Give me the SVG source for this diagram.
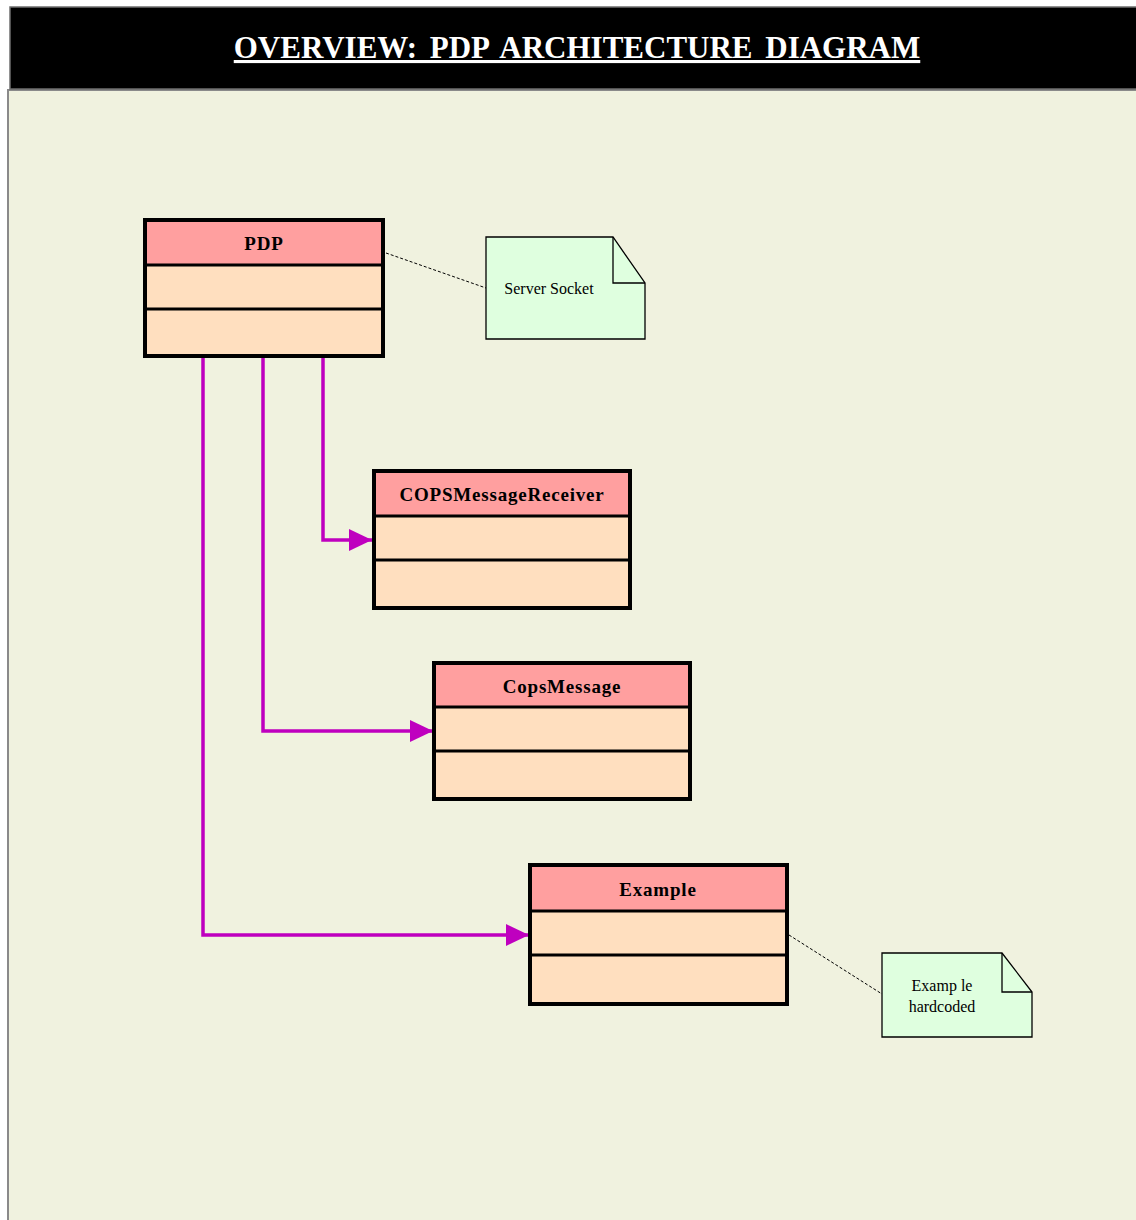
<svg xmlns="http://www.w3.org/2000/svg" width="1136" height="1220" viewBox="0 0 1136 1220">
  <defs>
    <style>
      .title { font-family: "Liberation Serif", "Times New Roman", serif; font-weight: bold; font-size: 31px; word-spacing: 5px; fill: #ffffff; text-decoration: underline; }
      .cls-box { fill: #ffdfbf; stroke: #000000; stroke-width: 4; }
      .cls-head { fill: #ff9f9f; }
      .cls-sep { stroke: #000000; stroke-width: 3; }
      .cls-name { font-family: "Liberation Serif", "Times New Roman", serif; font-weight: bold; font-size: 19px; letter-spacing: 0.8px; fill: #000000; text-anchor: middle; }
      .note { fill: #dfffdf; stroke: #000000; stroke-width: 1.3; }
      .note-fold { fill: none; stroke: #000000; stroke-width: 1.3; }
      .note-text { font-family: "Liberation Serif", "Times New Roman", serif; font-size: 16px; fill: #000000; text-anchor: middle; }
      .link { fill: none; stroke: #bf00bf; stroke-width: 3.5; }
      .anchor { fill: none; stroke: #000000; stroke-width: 1; stroke-dasharray: 3 2; }
    </style>
    <marker id="arrow" markerWidth="24" markerHeight="22" refX="23" refY="11" orient="auto" markerUnits="userSpaceOnUse">
      <path d="M0,0 L23,11 L0,22 Z" fill="#bf00bf"/>
    </marker>
  </defs>

  <!-- page background -->
  <rect x="0" y="0" width="1136" height="1220" fill="#ffffff"/>
  <rect x="8" y="90" width="1130" height="1132" fill="#f0f2df" stroke="#8a8a8a" stroke-width="2"/>

  <!-- title bar -->
  <g id="title">
    <rect x="10" y="7" width="1128" height="82" fill="#000000" stroke="#6e6e6e" stroke-width="1.5"/>
    <text class="title" x="577" y="58" text-anchor="middle">OVERVIEW: PDP ARCHITECTURE DIAGRAM</text>
  </g>

  <!-- connectors -->
  <g id="connectors">
    <polyline class="link" points="323,357 323,540 372,540" marker-end="url(#arrow)"/>
    <polyline class="link" points="263,357 263,731 433,731" marker-end="url(#arrow)"/>
    <polyline class="link" points="203,357 203,935 529,935" marker-end="url(#arrow)"/>
    <line class="anchor" x1="386" y1="253" x2="486" y2="288"/>
    <line class="anchor" x1="789" y1="935" x2="882" y2="994"/>
  </g>

  <!-- class PDP -->
  <g id="node-pdp">
    <rect class="cls-box" x="145" y="220" width="238" height="136"/>
    <rect class="cls-head" x="147" y="222" width="234" height="42"/>
    <line class="cls-sep" x1="147" y1="265" x2="381" y2="265"/>
    <line class="cls-sep" x1="147" y1="309" x2="381" y2="309"/>
    <text class="cls-name" x="264" y="250">PDP</text>
  </g>

  <!-- class COPSMessageReceiver -->
  <g id="node-copsmessagereceiver">
    <rect class="cls-box" x="374" y="471" width="256" height="137"/>
    <rect class="cls-head" x="376" y="473" width="252" height="43"/>
    <line class="cls-sep" x1="376" y1="516" x2="628" y2="516"/>
    <line class="cls-sep" x1="376" y1="560" x2="628" y2="560"/>
    <text class="cls-name" x="502" y="501">COPSMessageReceiver</text>
  </g>

  <!-- class CopsMessage -->
  <g id="node-copsmessage">
    <rect class="cls-box" x="434" y="663" width="256" height="136"/>
    <rect class="cls-head" x="436" y="665" width="252" height="42"/>
    <line class="cls-sep" x1="436" y1="707" x2="688" y2="707"/>
    <line class="cls-sep" x1="436" y1="751" x2="688" y2="751"/>
    <text class="cls-name" x="562" y="693">CopsMessage</text>
  </g>

  <!-- class Example -->
  <g id="node-example">
    <rect class="cls-box" x="530" y="865" width="257" height="139"/>
    <rect class="cls-head" x="532" y="867" width="253" height="43"/>
    <line class="cls-sep" x1="532" y1="911" x2="785" y2="911"/>
    <line class="cls-sep" x1="532" y1="955" x2="785" y2="955"/>
    <text class="cls-name" x="658" y="896">Example</text>
  </g>

  <!-- note: Server Socket -->
  <g id="note-server-socket">
    <path class="note" d="M486,237 L613,237 L645,283 L645,339 L486,339 Z"/>
    <polyline class="note-fold" points="613,237 613,283 645,283"/>
    <text class="note-text" x="549" y="294">Server Socket</text>
  </g>

  <!-- note: Example hardcoded -->
  <g id="note-example-hardcoded">
    <path class="note" d="M882,953 L1002,953 L1032,992 L1032,1037 L882,1037 Z"/>
    <polyline class="note-fold" points="1002,953 1002,992 1032,992"/>
    <text class="note-text" x="942" y="991">Examp le</text>
    <text class="note-text" x="942" y="1012">hardcoded</text>
  </g>
</svg>
